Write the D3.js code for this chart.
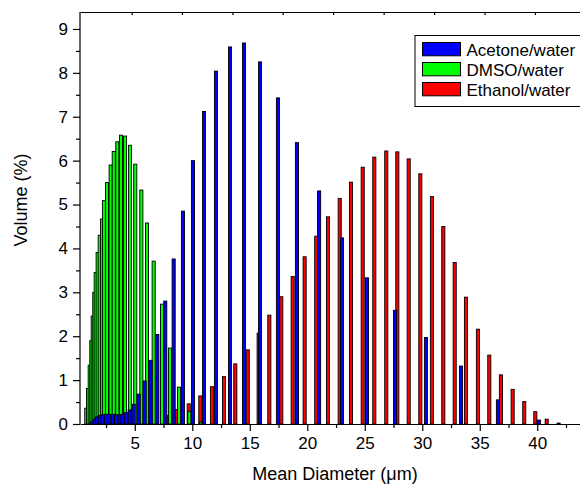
<!DOCTYPE html>
<html>
<head>
<meta charset="utf-8">
<script src="https://cdn.jsdelivr.net/npm/d3@7"></script>
<style>
  body { margin: 0; background: #fff; }
  svg { display: block; font-family: "Liberation Sans", Arial, sans-serif; }
</style>
</head>
<body>
<svg id="chart" width="580" height="487"></svg>
<script>
// ===== data =====
const seriesNames = ["Acetone/water", "DMSO/water", "Ethanol/water"];
const seriesColors = ["#0000ff", "#00ff00", "#ff0000"];

// Acetone/water
const acetoneX = [1.28, 1.51, 1.71, 1.95, 2.21, 2.50, 2.78, 3.08, 3.37, 3.69, 3.95, 4.23, 4.56, 4.90,
  5.34, 5.86, 6.38, 6.96, 7.65, 8.38, 9.19, 10.06, 11.02, 12.06, 13.28, 14.50, 15.89, 17.45,
  19.10, 21.03, 23.02, 25.19, 27.63, 30.32, 33.37, 36.58, 40.15];
const acetoneY = [0.05, 0.11, 0.16, 0.19, 0.21, 0.22, 0.22, 0.22, 0.21, 0.21, 0.22, 0.26, 0.32, 0.45,
  0.68, 0.98, 1.45, 2.04, 2.80, 3.76, 4.85, 6.00, 7.12, 8.04, 8.59, 8.68, 8.25, 7.43,
  6.41, 5.31, 4.24, 3.33, 2.59, 1.97, 1.32, 0.55, 0.09];

// DMSO/water
const dmsoX = [0.78, 0.93, 1.08, 1.22, 1.34, 1.48, 1.60, 1.77, 1.95, 2.15, 2.32, 2.58, 2.90, 3.17,
  3.48, 3.80, 4.15, 4.58, 5.04, 5.57, 6.06, 6.64, 7.37, 8.06, 8.84, 9.74, 10.76];
const dmsoY = [0.36, 0.81, 1.34, 1.90, 2.46, 3.00, 3.45, 3.91, 4.30, 4.67, 5.09, 5.50, 5.90, 6.21,
  6.43, 6.58, 6.56, 6.35, 5.92, 5.33, 4.58, 3.71, 2.73, 1.73, 0.84, 0.28, 0.04];

// Ethanol/water
const ethanolX = [7.95, 8.67, 9.69, 10.70, 11.71, 12.76, 13.74, 14.82, 15.77, 16.70, 17.74, 18.73,
  19.77, 20.78, 21.80, 22.82, 23.80, 24.82, 25.83, 26.87, 27.83, 28.82, 29.83, 30.84, 31.83,
  32.82, 33.80, 34.84, 35.83, 36.84, 37.86, 38.87, 39.83, 40.82, 41.86];
const ethanolY = [0.20, 0.33, 0.46, 0.64, 0.85, 1.08, 1.37, 1.69, 2.07, 2.48, 2.90, 3.36,
  3.81, 4.28, 4.72, 5.14, 5.51, 5.85, 6.08, 6.22, 6.20, 6.04, 5.70, 5.18, 4.50,
  3.68, 2.89, 2.16, 1.57, 1.12, 0.79, 0.51, 0.28, 0.11, 0.02];

// ticks
const xTicks = [5, 10, 15, 20, 25, 30, 35, 40];
const xMinorTicks = [2.5, 7.5, 12.5, 17.5, 22.5, 27.5, 32.5, 37.5, 42.5];
const yTicks = [0, 1, 2, 3, 4, 5, 6, 7, 8, 9];
const yMinorTicks = [0.5, 1.5, 2.5, 3.5, 4.5, 5.5, 6.5, 7.5, 8.5];
const topTicks = [4.73, 9.1, 13.5, 17.86, 22.25, 26.64, 31.03, 35.42, 39.8];

// ===== layout =====
const svg = d3.select("#chart");
const plotLeft = 80, plotTop = 12, plotBottom = 424, plotRight = 589;

const x = d3.scaleLinear().domain([0.235, 44.5]).range([plotLeft, plotRight]);
const y = d3.scaleLinear().domain([0, 9.4]).range([plotBottom, 11.4]);

const barW = 3.1;

// draw order: ethanol behind, dmso, acetone on top
const drawOrder = [
  { xs: ethanolX, ys: ethanolY, color: seriesColors[2] },
  { xs: dmsoX, ys: dmsoY, color: seriesColors[1] },
  { xs: acetoneX, ys: acetoneY, color: seriesColors[0] },
];

drawOrder.forEach(s => {
  const rows = s.xs.map((v, i) => ({ x: v, y: s.ys[i] }));
  svg.append("g")
    .selectAll("rect")
    .data(rows)
    .enter()
    .append("rect")
    .attr("x", d => x(d.x) - barW / 2)
    .attr("y", d => y(d.y))
    .attr("width", barW)
    .attr("height", d => plotBottom - y(d.y))
    .attr("fill", s.color)
    .attr("stroke", "#000")
    .attr("stroke-width", 0.9);
});

// ===== axes =====
const fontSize = 17;

const yAxis = svg.append("g")
  .attr("transform", `translate(${plotLeft},0)`)
  .call(d3.axisLeft(y).tickValues(yTicks).tickSize(7).tickPadding(5).tickSizeOuter(0));
svg.append("g")
  .attr("transform", `translate(${plotLeft},0)`)
  .call(d3.axisLeft(y).tickValues(yMinorTicks).tickSize(4).tickFormat(""))
  .select(".domain").remove();

svg.append("g")
  .attr("transform", `translate(0,${plotBottom})`)
  .call(d3.axisBottom(x).tickValues(xTicks).tickSize(7).tickPadding(6).tickSizeOuter(0));
svg.append("g")
  .attr("transform", `translate(0,${plotBottom})`)
  .call(d3.axisBottom(x).tickValues(xMinorTicks).tickSize(4).tickFormat(""))
  .select(".domain").remove();

// top frame line with small inward ticks
svg.append("g")
  .attr("transform", `translate(0,${plotTop})`)
  .call(d3.axisBottom(x).tickValues(topTicks).tickSize(3).tickFormat("").tickSizeOuter(0));

// left axis line should span to the top frame
yAxis.select(".domain").attr("d", `M0,${plotBottom}V${plotTop}`);

svg.selectAll(".domain, .tick line").attr("stroke", "#000").attr("stroke-width", 1.2);
svg.selectAll(".tick text")
  .attr("fill", "#000")
  .style("font-size", fontSize + "px")
  .style("font-family", "'Liberation Sans', Arial, sans-serif");

// axis titles
svg.append("text")
  .attr("x", 335)
  .attr("y", 480)
  .attr("text-anchor", "middle")
  .style("font-size", "18px")
  .text("Mean Diameter (μm)");

svg.append("text")
  .attr("transform", "translate(27,200) rotate(-90)")
  .attr("text-anchor", "middle")
  .style("font-size", "18px")
  .text("Volume (%)");

// ===== legend =====
const legend = svg.append("g").attr("transform", "translate(415,35.5)");
legend.append("rect")
  .attr("width", 175)
  .attr("height", 71)
  .attr("fill", "#fff")
  .attr("stroke", "#000")
  .attr("stroke-width", 1);

seriesNames.forEach((name, i) => {
  const row = legend.append("g").attr("transform", `translate(0,${7 + i * 20})`);
  row.append("rect")
    .attr("x", 7.5)
    .attr("width", 38)
    .attr("height", 13.3)
    .attr("fill", seriesColors[i])
    .attr("stroke", "#000")
    .attr("stroke-width", 1);
  row.append("text")
    .attr("x", 51.5)
    .attr("y", 13.3)
    .style("font-size", fontSize + "px")
    .text(name);
});
</script>
</body>
</html>
